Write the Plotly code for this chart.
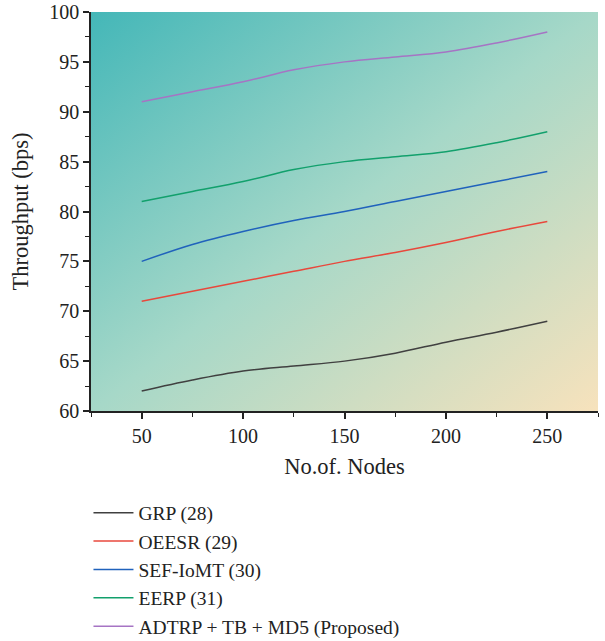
import base64
import plotly.graph_objects as go

nodes = [50, 75, 100, 125, 150, 175, 200, 225, 250]
grp = [62.0, 63.1, 64.0, 64.5, 65.0, 65.8, 66.9, 67.9, 69.0]
oeesr = [71.0, 72.0, 73.0, 74.0, 75.0, 75.9, 76.9, 78.0, 79.0]
sef_iomt = [75.0, 76.7, 78.0, 79.1, 80.0, 81.0, 82.0, 83.0, 84.0]
eerp = [81.0, 82.0, 83.0, 84.2, 85.0, 85.5, 86.0, 86.9, 88.0]
adtrp = [91.0, 92.0, 93.0, 94.2, 95.0, 95.5, 96.0, 96.9, 98.0]

series_names = ["GRP (28)", "OEESR (29)", "SEF-IoMT (30)", "EERP (31)",
                "ADTRP + TB + MD5 (Proposed)"]
series_values = [grp, oeesr, sef_iomt, eerp, adtrp]
series_colors = ["#404040", "#e8483c", "#2062bc", "#12a06c", "#a674c4"]

svg = ('<svg xmlns="http://www.w3.org/2000/svg" width="500" height="400" '
       'viewBox="0 0 500 400" preserveAspectRatio="none">'
       '<defs><linearGradient id="g" x1="0" y1="0" x2="1" y2="1">'
       '<stop offset="0" stop-color="#44b7b8"/>'
       '<stop offset="0.5" stop-color="#a6d8c8"/>'
       '<stop offset="1" stop-color="#f7e2bc"/>'
       '</linearGradient></defs>'
       '<rect width="500" height="400" fill="url(#g)"/></svg>')
uri = "data:image/svg+xml;base64," + base64.b64encode(svg.encode()).decode()

fig = go.Figure()
for name, vals, col in zip(series_names, series_values, series_colors):
    fig.add_trace(go.Scatter(x=nodes, y=vals, name=name, mode="lines",
                             line=dict(color=col, width=1.5, shape="spline",
                                       smoothing=1.0)))

font = dict(family="Liberation Serif, Times New Roman, serif", size=20,
            color="#222222")
fig.update_layout(
    width=605, height=641,
    margin=dict(l=91, r=7, t=12, b=230, autoexpand=False),
    paper_bgcolor="white", plot_bgcolor="white",
    font=font,
    showlegend=True,
    legend=dict(x=-0.005, y=-0.207, xanchor="left", yanchor="top",
                font=dict(size=19.5), bgcolor="rgba(0,0,0,0)",
                itemwidth=40, tracegroupgap=0),
    images=[dict(source=uri, xref="x", yref="y", x=25, y=100,
                 sizex=250, sizey=40, sizing="stretch", layer="below")],
)
fig.update_xaxes(range=[25, 275], tickvals=[50, 100, 150, 200, 250],
                 automargin=False,
                 showgrid=False, zeroline=False, showline=True,
                 linecolor="#222222", linewidth=1.5, ticks="outside",
                 ticklen=6, tickwidth=1.5, tickcolor="#222222",
                 minor=dict(tickvals=[25, 75, 125, 175, 225, 275],
                            ticks="outside", ticklen=4, tickwidth=1.2,
                            tickcolor="#222222", showgrid=False),
                 title=dict(text="No.of. Nodes", standoff=12,
                            font=dict(size=22.5)))
fig.update_yaxes(range=[60, 100], dtick=5, tick0=60,
                 automargin=False,
                 showgrid=False, zeroline=False, showline=True,
                 linecolor="#222222", linewidth=1.5, ticks="outside",
                 ticklen=6, tickwidth=1.5, tickcolor="#222222",
                 minor=dict(dtick=2.5, ticks="outside", ticklen=4,
                            tickwidth=1.2, tickcolor="#222222",
                            showgrid=False),
                 title=dict(text="Throughput (bps)", standoff=14,
                            font=dict(size=22.5)))

fig.write_html("out.html", config={"displayModeBar": False},
               post_script="document.body.style.margin='0';")
